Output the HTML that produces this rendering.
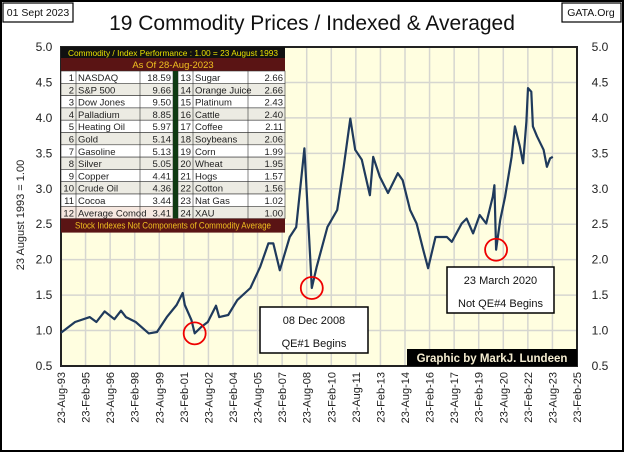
<!DOCTYPE html>
<html><head><meta charset="utf-8">
<style>
body{margin:0;background:#fff;font-family:"Liberation Sans",sans-serif;}
#wrap{position:relative;width:624px;height:453px;overflow:hidden;}
svg text{font-family:"Liberation Sans",sans-serif;}
</style></head>
<body>
<div id="wrap">
<svg id="chart" width="624" height="453"></svg>
</div>
<script>
const years=[1993.64,1994.5,1995.4,1995.8,1996.3,1996.9,1997.3,1997.6,1998.2,1999.0,1999.5,2000.1,2000.7,2001.07,2001.2,2001.6,2001.8,2002.2,2002.6,2003.1,2003.3,2003.85,2004.4,2005.2,2005.8,2006.3,2006.6,2007.0,2007.6,2008.0,2008.5,2008.6,2008.95,2009.25,2009.9,2010.5,2010.9,2011.3,2011.6,2012.0,2012.5,2012.7,2013.1,2013.6,2014.2,2014.5,2014.95,2015.35,2015.75,2016.05,2016.5,2017.2,2017.5,2018.1,2018.4,2018.8,2019.2,2019.6,2020.0,2020.1,2020.2,2020.45,2020.75,2021.15,2021.35,2021.65,2021.85,2022.05,2022.15,2022.35,2022.45,2022.7,2023.1,2023.3,2023.5,2023.66];
const values=[0.97,1.12,1.19,1.12,1.27,1.16,1.28,1.19,1.12,0.96,0.98,1.19,1.36,1.53,1.36,1.15,0.96,1.05,1.12,1.35,1.19,1.22,1.43,1.60,1.90,2.23,2.23,1.85,2.32,2.46,3.57,3.12,1.60,1.90,2.46,2.70,3.31,3.99,3.55,3.41,2.91,3.45,3.17,2.94,3.22,3.12,2.70,2.51,2.14,1.88,2.32,2.32,2.25,2.51,2.58,2.37,2.63,2.51,2.89,3.05,2.14,2.56,2.89,3.45,3.88,3.60,3.36,3.95,4.42,4.37,3.88,3.74,3.55,3.31,3.43,3.45];
const yTicks=["0.5","1.0","1.5","2.0","2.5","3.0","3.5","4.0","4.5","5.0"];
const xTickLabels=["23-Aug-93","23-Feb-95","23-Aug-96","23-Feb-98","23-Aug-99","23-Feb-01","23-Aug-02","23-Feb-04","23-Aug-05","23-Feb-07","23-Aug-08","23-Feb-10","23-Aug-11","23-Feb-13","23-Aug-14","23-Feb-16","23-Aug-17","23-Feb-19","23-Aug-20","23-Feb-22","23-Aug-23","23-Feb-25"];
const tableLeft=[["1","NASDAQ","18.59"],["2","S&P 500","9.66"],["3","Dow Jones","9.50"],["4","Palladium","8.85"],["5","Heating Oil","5.97"],["6","Gold","5.14"],["7","Gasoline","5.13"],["8","Silver","5.05"],["9","Copper","4.41"],["10","Crude Oil","4.36"],["11","Cocoa","3.44"],["12","Average Comod","3.41"]];
const tableRight=[["13","Sugar","2.66"],["14","Orange Juice","2.66"],["15","Platinum","2.43"],["16","Cattle","2.40"],["17","Coffee","2.11"],["18","Soybeans","2.06"],["19","Corn","1.99"],["20","Wheat","1.95"],["21","Hogs","1.57"],["22","Cotton","1.56"],["23","Nat Gas","1.02"],["24","XAU","1.00"]];
const markers=[[2001.8,0.96],[2008.95,1.60],[2020.2,2.14]];

const L=61,R=577,T=47,B=366,X0=1993.64,X1=2025.14,Y0=0.5,Y1=5.0;
const xs=t=>L+(t-X0)/(X1-X0)*(R-L);
const ys=v=>B-(v-Y0)/(Y1-Y0)*(B-T);
const svg=document.getElementById('chart');
const NS='http://www.w3.org/2000/svg';
function mk(tag,attrs,parent){const e=document.createElementNS(NS,tag);for(const k in attrs)e.setAttribute(k,attrs[k]);(parent||svg).appendChild(e);return e;}

let e;
e=mk('rect',{x:1,y:1,width:622,height:450,fill:'#fff',stroke:'#000','stroke-width':2});


e=mk('rect',{x:L,y:T,width:R-L,height:B-T,fill:'#fffee0'});


yTicks.forEach(s=>{const v=parseFloat(s),y=ys(v);
 e=mk('line',{x1:L,x2:R,y1:y,y2:y,stroke:'#d6d6d0','stroke-width':1.5});
 
 
 e=mk('text',{x:44,y:y+4,'font-size':12,'text-anchor':'middle',fill:'#222'});e.textContent=s;
 
 
 e=mk('text',{x:600,y:y+4,'font-size':12,'text-anchor':'middle',fill:'#222'});e.textContent=s;
 
 
});
xTickLabels.forEach((s,i)=>{const x=xs(X0+1.5*i);
 e=mk('line',{x1:x,x2:x,y1:T,y2:B,stroke:'#d6d6d0','stroke-width':1.5});
 
 
 e=mk('text',{x:0,y:0,'font-size':11,'text-anchor':'end',fill:'#222',transform:`translate(${x+4},372) rotate(-90)`});e.textContent=s;
 
 
});
e=mk('rect',{x:L,y:T,width:R-L,height:B-T,fill:'none',stroke:'#222','stroke-width':2});



const pts=years.map((t,i)=>xs(t).toFixed(1)+','+ys(values[i]).toFixed(1)).join(' ');
e=mk('polyline',{points:pts,fill:'none',stroke:'#1f3a5c','stroke-width':2.2,'stroke-linejoin':'round'});


markers.forEach(m=>{e=mk('circle',{cx:xs(m[0]),cy:ys(m[1]),r:11,fill:'none',stroke:'#e00','stroke-width':1.8});
 
 });

const tg=mk('g',{});


const TX=61,TW=224;
e=mk('rect',{x:TX,y:47,width:TW,height:11,fill:'#111'},tg);
e=mk('text',{x:TX+TW/2,y:56,'font-size':8.5,'text-anchor':'middle',fill:'#e8e000',textLength:210,lengthAdjust:'spacingAndGlyphs'},tg);e.textContent='Commodity / Index Performance : 1.00 = 23 August 1993';


e=mk('rect',{x:TX,y:58,width:TW,height:13,fill:'#5a1414'},tg);
e=mk('text',{x:TX+TW/2,y:68,'font-size':9.5,'text-anchor':'middle',fill:'#f0c020'},tg);e.textContent='As Of   28-Aug-2023';


const rh=12.3,r0=71;
const cols=[[61,76],[76,140],[140,173],[178,193],[193,248],[248,285]];
for(let i=0;i<12;i++){const y=r0+i*rh;const bg=i%2?'#ecebe3':'#fff';
 e=mk('rect',{x:61,y:y,width:112,height:rh,fill:i==11?'#f6e8e0':bg,stroke:'#333','stroke-width':0.6},tg);
 e=mk('rect',{x:178,y:y,width:107,height:rh,fill:bg,stroke:'#333','stroke-width':0.6},tg);
 cols.forEach((c,j)=>{if(j!=2&&j!=5)mk('line',{x1:c[1],x2:c[1],y1:y,y2:y+rh,stroke:'#333','stroke-width':0.6},tg);});
 [tableLeft[i],tableRight[i]].forEach((row,k)=>{const o=k*3;
  e=mk('text',{x:cols[o][1]-2,y:y+10,'font-size':9.5,'text-anchor':'end',fill:'#222'},tg);e.textContent=row[0];
  e=mk('text',{x:cols[o+1][0]+2,y:y+10,'font-size':9.5,fill:'#222'},tg);e.textContent=row[1];
  e=mk('text',{x:cols[o+2][1]-2,y:y+10,'font-size':9.5,'text-anchor':'end',fill:'#222'},tg);e.textContent=row[2];
  
  
 });
}
e=mk('rect',{x:173,y:r0,width:5,height:12*rh,fill:'#0f3a12'},tg);
e=mk('rect',{x:61,y:r0+12*rh,width:TW,height:14,fill:'#5a1414'},tg);
e=mk('text',{x:TX+TW/2,y:r0+12*rh+10,'font-size':9,'text-anchor':'middle',fill:'#f0c020',textLength:196,lengthAdjust:'spacingAndGlyphs'},tg);e.textContent='Stock Indexes Not Components of Commodity Average';



function box(x,y,w,h,l1,l2,name){const g=mk('g',{});
 
 
 mk('rect',{x:x,y:y,width:w,height:h,fill:'#fff',stroke:'#000','stroke-width':1.5},g);
 let t=mk('text',{x:x+w/2,y:y+17,'font-size':11,'text-anchor':'middle',fill:'#111'},g);t.textContent=l1;
 t=mk('text',{x:x+w/2,y:y+40,'font-size':11,'text-anchor':'middle',fill:'#111'},g);t.textContent=l2;}
box(260,307,108,46,'08 Dec  2008','QE#1  Begins','qe1-annotation');
box(447,267,107,46,'23 March  2020','Not QE#4 Begins','qe4-annotation');
e=mk('rect',{x:407,y:349,width:170,height:17,fill:'#000'});
e=mk('text',{x:492,y:362,'font-size':11.5,'font-weight':'bold','text-anchor':'middle',fill:'#f4ecd0','font-family':'Liberation Serif'});e.textContent='Graphic by MarkJ. Lundeen';



e=mk('rect',{x:3,y:3,width:70,height:19,fill:'#fff',stroke:'#000','stroke-width':1.2});
e=mk('text',{x:38,y:16,'font-size':10.5,'text-anchor':'middle',fill:'#111'});e.textContent='01 Sept 2023';


e=mk('rect',{x:562,y:3,width:59,height:19,fill:'#fff',stroke:'#000','stroke-width':1.2});
e=mk('text',{x:591,y:16,'font-size':10.5,'text-anchor':'middle',fill:'#111'});e.textContent='GATA.Org';


e=mk('text',{x:312,y:30,'font-size':21,'text-anchor':'middle',fill:'#111'});e.textContent='19 Commodity Prices / Indexed & Averaged';


e=mk('text',{x:0,y:0,'font-size':11,'text-anchor':'middle',fill:'#222',transform:'translate(24,215) rotate(-90)'});e.textContent='23 August 1993  =  1.00';


</script>
</body></html>
